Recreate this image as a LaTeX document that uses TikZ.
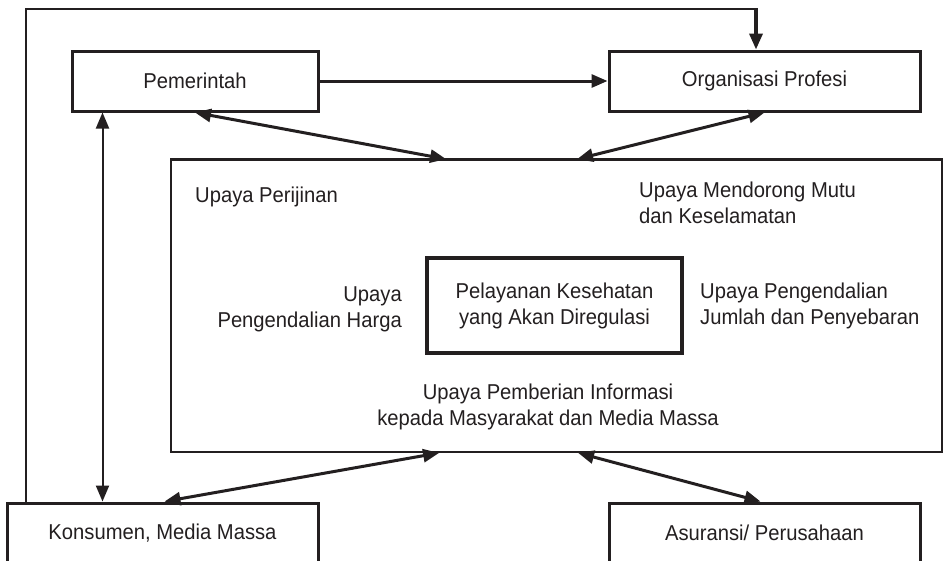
\documentclass[tikz,border=0pt]{standalone}
\usepackage{fontspec}
\setmainfont{Liberation Sans}[FakeStretch=0.94]
\usetikzlibrary{arrows.meta}
\definecolor{ink}{RGB}{35,31,32}

\begin{document}
\begin{tikzpicture}[x=1pt,y=-1pt,
  every node/.style={font=\fontsize{21.5}{26}\selectfont, text=ink},
  box/.style={draw=ink, line width=3pt, inner sep=0pt},
  frame/.style={draw=ink, line width=1.8pt, inner sep=0pt},
  lbl/.style={inner sep=0pt},
  tip/.tip={Triangle[length=16pt,width=13pt]},
  oneway/.style={draw=ink, line width=3pt, -tip},
  twoway/.style={draw=ink, line width=3pt, tip-tip},
  fbline/.style={draw=ink, line width=2pt}]

\useasboundingbox (0,0) rectangle (944,560);
\clip (0,0) rectangle (944,560);
\fill[white] (0,0) rectangle (944,560);

% actors
\node[box, minimum width=246pt, minimum height=60pt] (pem) at (195,81) {Pemerintah};
\node[box, minimum width=311pt, minimum height=60pt] (org) at (764.5,81) {Organisasi Profesi};
\node[box, minimum width=311pt, minimum height=60pt] (kons) at (162.5,533) {Konsumen, Media Massa};
\node[box, minimum width=311pt, minimum height=60pt] (asur) at (764.5,533) {Asuransi/ Perusahaan};

% regulation field
\node[frame, minimum width=771pt, minimum height=292pt] (main) at (556.5,306) {};
\draw[ink, line width=3pt] (main.north west) -- (main.north east);
\node[box, line width=3.5pt, minimum width=255pt, minimum height=95pt, align=center] (svc) at (554.5,305.5)
  {Pelayanan Kesehatan\\yang Akan Diregulasi};

% efforts
\node[lbl, anchor=base west] (perijinan) at (195,202) {Upaya Perijinan};
\node[lbl, align=left, anchor=west] (mutu) at (639,203) {Upaya Mendorong Mutu\\dan Keselamatan};
\node[lbl, align=right, anchor=east] (harga) at (402,309) {Upaya\\Pengendalian Harga};
\node[lbl, align=left, anchor=west] (jumlah) at (700,306) {Upaya Pengendalian\\Jumlah dan Penyebaran};
\node[lbl, align=center] (info) at (548,406.7) {Upaya Pemberian Informasi\\kepada Masyarakat dan Media Massa};

% connectors
\draw[oneway] (pem.east) -- (org.west);
\draw[twoway] (pem.south) -- ([xshift=276pt]main.north west);
\draw[twoway] (org.south) -- ([xshift=407pt]main.north west);
\draw[draw=ink, line width=2pt, tip-tip] ([xshift=32pt]pem.south west) -- ([xshift=97pt]kons.north west);
\draw[twoway] ([xshift=269pt]main.south west) -- ([xshift=159pt]kons.north west);
\draw[twoway] ([xshift=408pt]main.south west) -- ([xshift=153pt]asur.north west);

% feedback loop from consumers to the professional organisation
\coordinate (fbL) at (26,9);
\coordinate (fbR) at (756,9);
\draw[fbline] (kons.north -| fbL) -- (fbL) -- (fbR);
\draw[draw=ink, line width=3.5pt, -tip] ([yshift=1pt]fbR) -- (org.north -| fbR);

\end{tikzpicture}
\end{document}
